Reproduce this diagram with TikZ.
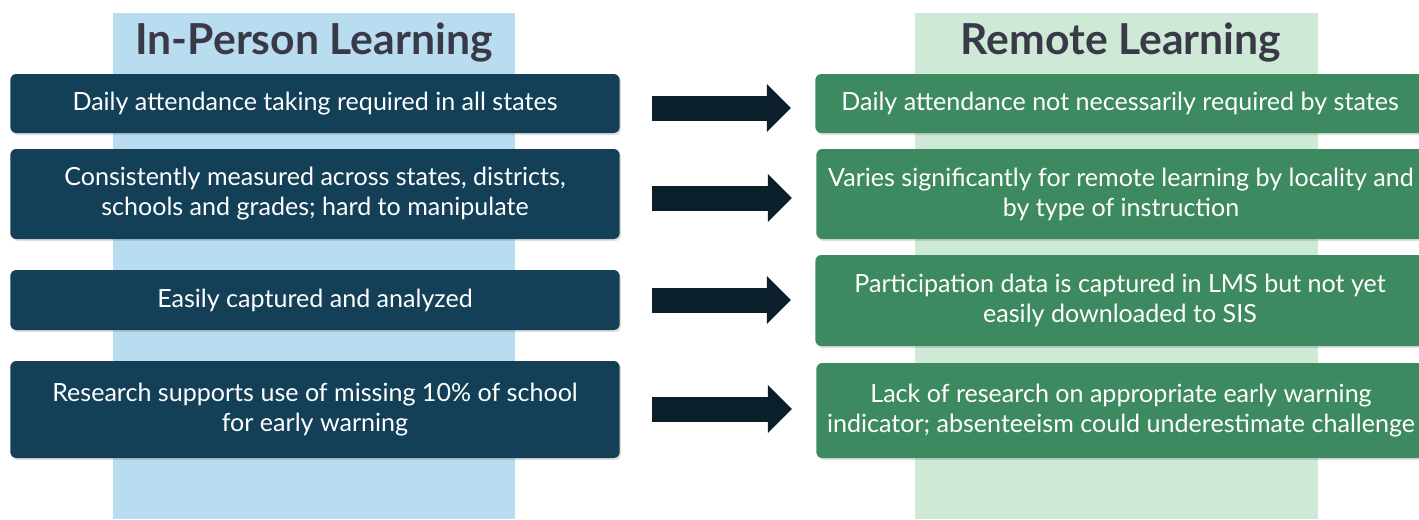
\documentclass[tikz,border=0pt]{standalone}
\usepackage{fontspec}
\setmainfont{Lato}
\usetikzlibrary{arrows.meta,shadows,calc}

\definecolor{navybox}{RGB}{19,63,87}
\definecolor{greenbox}{RGB}{62,138,96}
\definecolor{arrowdark}{RGB}{11,31,42}
\definecolor{bluecol}{RGB}{185,221,240}
\definecolor{greencol}{RGB}{206,234,214}
\definecolor{titlegray}{RGB}{58,57,72}

\tikzset{every picture/.style={line width=0.75pt}}

\begin{document}
\begin{tikzpicture}[x=0.75pt,y=0.75pt,yscale=-1,xscale=1,
  box/.style={rounded corners=4.5pt, minimum width=457pt, align=center, text=white,
    font=\fontsize{18.8}{22.5}\selectfont,
    drop shadow={shadow xshift=1pt, shadow yshift=-1.5pt, opacity=0.25}},
  inperson/.style={box, fill=navybox},
  remote/.style={box, fill=greenbox},
  coltitle/.style={font=\fontsize{32}{35}\selectfont\bfseries, text=titlegray},
  blockarrow/.style={draw=arrowdark, line width=18.75pt, shorten <=24pt, shorten >=18pt,
    -{Triangle[length=18pt, width=36pt, line width=0pt]}}]
\useasboundingbox (0,0) rectangle (1419,519);

%Column backgrounds
\fill[bluecol] (113,13) rectangle (515,519);
\fill[greencol] (915,13) rectangle (1318,519);

% Titles
\node[coltitle] (tin) at (314,43) {In-Person Learning};
\node[coltitle] (trem) at (1121,43) {Remote Learning};

% In-person boxes
\node[inperson, minimum height=44.25pt] (l1) at (315,103.5) {Daily attendance taking required in all states};
\node[inperson, minimum height=67.5pt] (l2) at (315,194) {Consistently measured across states, districts,\\ schools and grades; hard to manipulate};
\node[inperson, minimum height=45pt] (l3) at (315,300) {Easily captured and analyzed};
\node[inperson, minimum height=72.75pt] (l4) at (315,409.5) {Research supports use of missing 10\% of school\\ for early warning};

% Remote boxes
\node[remote, minimum height=44.25pt] (r1) at (1120,103.5) {Daily attendance not necessarily required by states};
\node[remote, minimum height=67.5pt] (r2) at (1121,194) {Varies significantly for remote learning by locality and\\ by type of instruction};
\node[remote, minimum height=68.25pt] (r3) at (1120,300.5) {Participation data is captured in LMS but not yet\\ easily downloaded to SIS};
\node[remote, minimum height=71.25pt] (r4) at (1121,410.5) {Lack of research on appropriate early warning\\ indicator; absenteeism could underestimate challenge};

% Arrows
\foreach \i/\dy in {1/4.5, 2/4, 3/0, 4/-0.5}{
  \coordinate (a\i) at ($(l\i.east)+(0,\dy)$);
  \draw[blockarrow] (a\i) -- (a\i -| r\i.west);
}

\end{tikzpicture}
\end{document}
